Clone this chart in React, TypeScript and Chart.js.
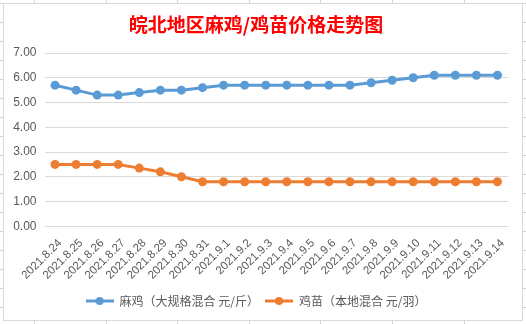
import React, { useEffect, useRef } from "react";
import { Chart, registerables } from "chart.js";

Chart.register(...registerables);

const titleText = "皖北地区麻鸡/鸡苗价格走势图";
const categories = [
  "2021.8.24", "2021.8.25", "2021.8.26", "2021.8.27", "2021.8.28", "2021.8.29",
  "2021.8.30", "2021.8.31", "2021.9.1", "2021.9.2", "2021.9.3", "2021.9.4",
  "2021.9.5", "2021.9.6", "2021.9.7", "2021.9.8", "2021.9.9", "2021.9.10",
  "2021.9.11", "2021.9.12", "2021.9.13", "2021.9.14",
];
const seriesNames = ["麻鸡（大规格混合 元/斤）", "鸡苗（本地混合 元/羽）"];
const majiPrices = [5.7, 5.5, 5.3, 5.3, 5.4, 5.5, 5.5, 5.6, 5.7, 5.7, 5.7, 5.7, 5.7, 5.7, 5.7, 5.8, 5.9, 6.0, 6.1, 6.1, 6.1, 6.1];
const jimiaoPrices = [2.5, 2.5, 2.5, 2.5, 2.35, 2.2, 2.0, 1.8, 1.8, 1.8, 1.8, 1.8, 1.8, 1.8, 1.8, 1.8, 1.8, 1.8, 1.8, 1.8, 1.8, 1.8];
const yMin = 0;
const yMax = 7;
const yStep = 1;

const BLUE = "#5B9BD5";
const ORANGE = "#ED7D31";
const TEXT = "#595959";
const GRID = "#D9D9D9";

function legendIcon(color: string) {
  const c = document.createElement("canvas");
  c.width = 28;
  c.height = 10;
  const ctx = c.getContext("2d")!;
  ctx.strokeStyle = color;
  ctx.lineWidth = 3;
  ctx.beginPath();
  ctx.moveTo(0, 5);
  ctx.lineTo(28, 5);
  ctx.stroke();
  ctx.fillStyle = color;
  ctx.beginPath();
  ctx.arc(14, 5, 4, 0, Math.PI * 2);
  ctx.fill();
  return c;
}

export default function App() {
  const ref = useRef<HTMLCanvasElement>(null);

  useEffect(() => {
    if (!ref.current) return;
    const icons = [legendIcon(BLUE), legendIcon(ORANGE)];
    const chart = new Chart(ref.current, {
      type: "line",
      data: {
        labels: categories,
        datasets: [
          {
            label: seriesNames[0],
            data: majiPrices,
            borderColor: BLUE,
            backgroundColor: BLUE,
            borderWidth: 3,
            pointRadius: 4.5,
            pointHoverRadius: 4.5,
            pointBackgroundColor: BLUE,
            pointBorderWidth: 0,
            pointStyle: "circle",
            tension: 0,
          },
          {
            label: seriesNames[1],
            data: jimiaoPrices,
            borderColor: ORANGE,
            backgroundColor: ORANGE,
            borderWidth: 3,
            pointRadius: 4.5,
            pointHoverRadius: 4.5,
            pointBackgroundColor: ORANGE,
            pointBorderWidth: 0,
            pointStyle: "circle",
            tension: 0,
          },
        ],
      },
      options: {
        animation: false,
        responsive: false,
        maintainAspectRatio: false,
        layout: { padding: { left: 0, right: 14, top: 0, bottom: 3 } },
        plugins: {
          title: {
            display: true,
            text: titleText,
            color: "#FF0000",
            font: { family: "'Noto Sans CJK SC'", size: 19, weight: "bold" },
            padding: { top: 9, bottom: 17.2 },
          },
          legend: {
            position: "bottom",
            labels: {
              color: TEXT,
              font: { family: "'Noto Sans CJK SC'", size: 12 },
              usePointStyle: true,
              pointStyleWidth: 28,
              padding: 6,
              generateLabels: (c: any) =>
                c.data.datasets.map((ds: any, i: number) => ({
                  text: ds.label,
                  fillStyle: ds.borderColor,
                  strokeStyle: ds.borderColor,
                  lineWidth: 0,
                  pointStyle: icons[i],
                  datasetIndex: i,
                  hidden: false,
                  fontColor: TEXT,
                })),
            },
          },
          tooltip: { enabled: false },
        },
        scales: {
          x: {
            offset: true,
            grid: { display: false, drawTicks: false },
            border: { display: false },
            ticks: {
              color: TEXT,
              font: { family: "'Liberation Sans'", size: 11.5 },
              maxRotation: 45,
              minRotation: 45,
              autoSkip: false,
              padding: 10,
              labelOffset: 5,
            },
            afterFit: (s: any) => {
              s.height = 62.7;
            },
          },
          y: {
            min: yMin,
            max: yMax,
            grid: { color: GRID, drawTicks: false, lineWidth: 1 },
            border: { display: false },
            ticks: {
              stepSize: yStep,
              color: TEXT,
              font: { family: "'Liberation Sans'", size: 12 },
              padding: 8,
              callback: (v: any) => Number(v).toFixed(2),
            },
            afterFit: (s: any) => {
              s.width = 40.5;
            },
          },
        },
      },
    });
    return () => chart.destroy();
  }, []);

  const cols = [34, 106, 177, 249, 320, 392, 464];
  const rows: number[] = [];
  for (let y = 3; y < 324; y += 19) rows.push(y);

  return (
    <div style={{ position: "fixed", left: 0, top: 0, width: 526, height: 324, background: "#fff", overflow: "hidden" }}>
      {cols.map((x) => (
        <div key={"c" + x} style={{ position: "absolute", left: x, top: 0, width: 1, height: 324, background: "#D4D4D4" }} />
      ))}
      {rows.map((y) => (
        <div key={"r" + y} style={{ position: "absolute", left: 0, top: y, width: 526, height: 1, background: "#D4D4D4" }} />
      ))}
      <div
        style={{
          position: "absolute",
          left: 3,
          top: 3,
          width: 520,
          height: 318,
          boxSizing: "border-box",
          border: "1px solid #D9D9D9",
          background: "#fff",
        }}
      >
        <canvas ref={ref} width={518} height={316} style={{ display: "block", width: 518, height: 316 }} />
      </div>
    </div>
  );
}
